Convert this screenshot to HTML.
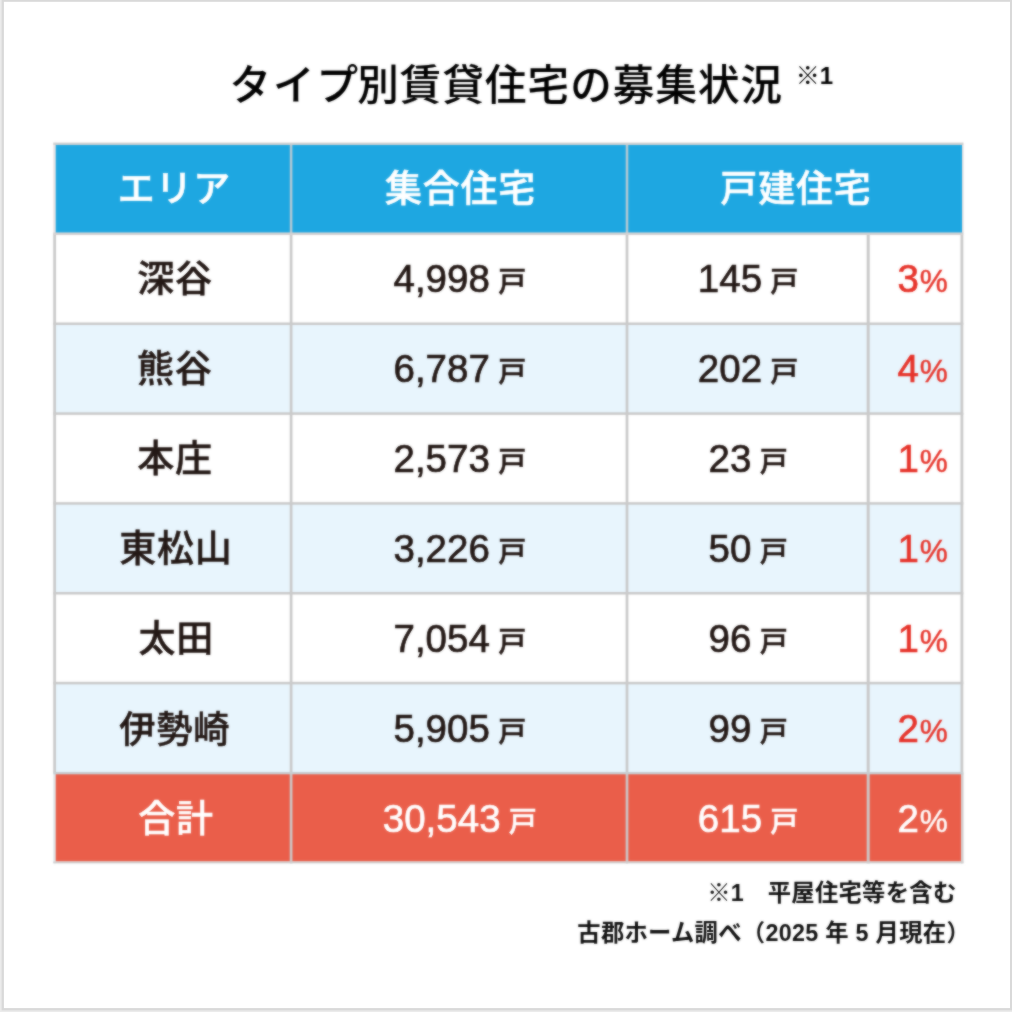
<!DOCTYPE html>
<html lang="ja">
<head>
<meta charset="utf-8">
<title>タイプ別賃貸住宅の募集状況</title>
<style>
html,body{margin:0;padding:0;}
body{width:1012px;height:1012px;overflow:hidden;background:#fff;
  font-family:"Liberation Sans","Noto Sans CJK JP",sans-serif;font-weight:500;color:#231815;}
#frame{position:absolute;left:0;top:0;}
#wrap{position:absolute;left:0;top:0;width:1012px;height:1012px;filter:url(#soft);}
h1{position:absolute;margin:0;left:229.4px;top:56.2px;height:60px;line-height:60px;
  font-size:41.5px;font-weight:500;letter-spacing:1.1px;color:#000;white-space:nowrap;-webkit-text-stroke:0.15px #000;}
h1 .k{letter-spacing:2px;margin-right:-2.7px;}
h1 sup{-webkit-text-stroke:0;position:absolute;left:566.3px;top:-10.7px;font-size:24px;font-weight:700;letter-spacing:0;line-height:60px;vertical-align:baseline;}
#tbl{position:absolute;left:0;top:0;}
#lines{position:absolute;left:0;top:0;pointer-events:none;}
.cell{position:absolute;white-space:nowrap;text-align:center;font-size:37px;line-height:90px;height:90px;}
.cell>span{position:relative;display:inline-block;line-height:1;vertical-align:baseline;}
.hd{color:#fff;}
.hd>span{letter-spacing:0.8px;top:1.1px;left:1.5px;-webkit-text-stroke:0.6px currentColor;}
.c1>span{letter-spacing:0.8px;top:0.4px;left:0;-webkit-text-stroke:0.5px currentColor;}
.c1.w3>span{transform:scaleX(0.98);top:0.8px;}
.tot{color:#fff;}
.pct{color:#e6332a;}
.tot.pct{color:#fff;}
.n{font-size:38.5px;-webkit-text-stroke:0.7px currentColor;top:0.5px;}
.u{font-size:28px;margin-left:8.3px;top:0.5px;-webkit-text-stroke:0.5px currentColor;}
.c2>span{left:0.8px;}
.c3>span{left:0.5px;}
.p{font-size:31.5px;margin-left:1px;top:0.5px;-webkit-text-stroke:0.45px currentColor;}
.c4{text-align:right;}
.c4>.p{margin-right:14px;}
.note{position:absolute;font-size:23.3px;letter-spacing:0.3px;font-weight:700;color:#111;white-space:nowrap;line-height:30px;}
.n1{top:878px;right:55.5px;}
.n2{top:918px;right:42px;}
</style>
</head>
<body>
<svg id="frame" width="1012" height="1012" viewBox="0 0 1012 1012"><rect x="0" y="0" width="1012" height="1012" fill="#ebebeb"/><rect x="1.6" y="0" width="1010.4" height="1010.4" fill="#d9d9d9"/><rect x="3.9" y="1.8" width="1006.1" height="1006.3" fill="#ffffff"/></svg>
<svg width="0" height="0" style="position:absolute"><defs><filter id="soft" x="0" y="0" width="100%" height="100%" color-interpolation-filters="sRGB"><feGaussianBlur in="SourceGraphic" stdDeviation="0.9" result="b"/><feComposite in="SourceGraphic" in2="b" operator="arithmetic" k1="0" k2="0.4" k3="0.6" k4="0"/></filter></defs></svg>
<div id="wrap">
<h1><span class="t"><span class="k">タイプ</span>別賃貸住宅の募集状況</span><sup>※1</sup></h1>
<svg id="lines" width="1012" height="1012" viewBox="0 0 1012 1012">
<rect x="54.6" y="144.1" width="907.5" height="89.83" fill="#1ea7e1"/>
<rect x="54.6" y="233.93" width="907.3" height="89.83" fill="#ffffff"/>
<rect x="54.6" y="323.76" width="907.3" height="89.83" fill="#e8f5fd"/>
<rect x="54.6" y="413.59" width="907.3" height="89.83" fill="#ffffff"/>
<rect x="54.6" y="503.42" width="907.3" height="89.83" fill="#e8f5fd"/>
<rect x="54.6" y="593.25" width="907.3" height="89.83" fill="#ffffff"/>
<rect x="54.6" y="683.08" width="907.3" height="89.83" fill="#e8f5fd"/>
<rect x="54.6" y="772.91" width="907.3" height="88.63" fill="#ea5e4a"/>
<rect x="53.3" y="142.8" width="2.4" height="91.13" fill="#ebe5e5"/>
<rect x="289.85" y="144.1" width="2.5" height="89.83" fill="#b6c9d3"/>
<rect x="625.75" y="144.1" width="2.5" height="89.83" fill="#b6c9d3"/>
<rect x="962.05" y="142.8" width="1.5" height="91.13" fill="#e4dfdf"/>
<rect x="53.25" y="233.93" width="2.7" height="538.98" fill="#c9c9c9"/>
<rect x="289.75" y="233.93" width="2.7" height="538.98" fill="#c9c9c9"/>
<rect x="625.65" y="233.93" width="2.7" height="538.98" fill="#c9c9c9"/>
<rect x="866.7" y="233.93" width="3" height="538.98" fill="#c9c9c9"/>
<rect x="960.5" y="233.93" width="2.8" height="538.98" fill="#c9c9c9"/>
<rect x="53.3" y="772.91" width="2.4" height="90.48" fill="#dfe7eb"/>
<rect x="289.75" y="772.91" width="2.7" height="90.48" fill="#ccc5c5"/>
<rect x="625.65" y="772.91" width="2.7" height="90.48" fill="#ccc5c5"/>
<rect x="866.7" y="772.91" width="3" height="90.48" fill="#ccc5c5"/>
<rect x="961" y="772.91" width="2.6" height="90.48" fill="#d3d0d0"/>
<rect x="53.3" y="142.55" width="910" height="2.4" fill="#d0d0d0"/>
<rect x="53.3" y="232.43" width="910" height="2.6" fill="#d5d1d1"/>
<rect x="53.3" y="322.51" width="910" height="2.5" fill="#c9c9c9"/>
<rect x="53.3" y="412.34" width="910" height="2.5" fill="#c9c9c9"/>
<rect x="53.3" y="502.17" width="910" height="2.5" fill="#c9c9c9"/>
<rect x="53.3" y="592" width="910" height="2.5" fill="#c9c9c9"/>
<rect x="53.3" y="681.83" width="910" height="2.5" fill="#c9c9c9"/>
<rect x="53.3" y="771.91" width="910" height="2.4" fill="#c6ced2"/>
<rect x="53.3" y="861.49" width="910" height="1.9" fill="#cfcfcf"/>
</svg>
<div id="tbl">
<div class="cell hd" style="left:54.6px;top:144.1px;width:236.5px;"><span>エリア</span></div>
<div class="cell hd" style="left:291.1px;top:144.1px;width:335.9px;"><span>集合住宅</span></div>
<div class="cell hd" style="left:627px;top:144.1px;width:334.9px;"><span>戸建住宅</span></div>
<div class="cell bd c1" style="left:56.8px;top:234.48px;width:236.5px;"><span>深谷</span></div>
<div class="cell bd c2" style="left:291.1px;top:234.48px;width:335.9px;"><span class="n">4,998</span><span class="u">戸</span></div>
<div class="cell bd c3" style="left:627px;top:234.48px;width:241.2px;"><span class="n">145</span><span class="u">戸</span></div>
<div class="cell bd c4 pct" style="left:868.2px;top:234.48px;width:93.7px;"><span class="n">3</span><span class="p">%</span></div>
<div class="cell bd c1" style="left:56.6px;top:324.53px;width:236.5px;"><span>熊谷</span></div>
<div class="cell bd c2" style="left:291.1px;top:324.53px;width:335.9px;"><span class="n">6,787</span><span class="u">戸</span></div>
<div class="cell bd c3" style="left:627px;top:324.53px;width:241.2px;"><span class="n">202</span><span class="u">戸</span></div>
<div class="cell bd c4 pct" style="left:868.2px;top:324.53px;width:93.7px;"><span class="n">4</span><span class="p">%</span></div>
<div class="cell bd c1" style="left:56.8px;top:414.58px;width:236.5px;"><span>本庄</span></div>
<div class="cell bd c2" style="left:291.1px;top:414.58px;width:335.9px;"><span class="n">2,573</span><span class="u">戸</span></div>
<div class="cell bd c3" style="left:627px;top:414.58px;width:241.2px;"><span class="n">23</span><span class="u">戸</span></div>
<div class="cell bd c4 pct" style="left:868.2px;top:414.58px;width:93.7px;"><span class="n">1</span><span class="p">%</span></div>
<div class="cell bd c1" style="left:57.6px;top:504.63px;width:236.5px;"><span>東松山</span></div>
<div class="cell bd c2" style="left:291.1px;top:504.63px;width:335.9px;"><span class="n">3,226</span><span class="u">戸</span></div>
<div class="cell bd c3" style="left:627px;top:504.63px;width:241.2px;"><span class="n">50</span><span class="u">戸</span></div>
<div class="cell bd c4 pct" style="left:868.2px;top:504.63px;width:93.7px;"><span class="n">1</span><span class="p">%</span></div>
<div class="cell bd c1" style="left:58px;top:594.68px;width:236.5px;"><span>太田</span></div>
<div class="cell bd c2" style="left:291.1px;top:594.68px;width:335.9px;"><span class="n">7,054</span><span class="u">戸</span></div>
<div class="cell bd c3" style="left:627px;top:594.68px;width:241.2px;"><span class="n">96</span><span class="u">戸</span></div>
<div class="cell bd c4 pct" style="left:868.2px;top:594.68px;width:93.7px;"><span class="n">1</span><span class="p">%</span></div>
<div class="cell bd c1 w3" style="left:56.2px;top:684.73px;width:236.5px;"><span>伊勢崎</span></div>
<div class="cell bd c2" style="left:291.1px;top:684.73px;width:335.9px;"><span class="n">5,905</span><span class="u">戸</span></div>
<div class="cell bd c3" style="left:627px;top:684.73px;width:241.2px;"><span class="n">99</span><span class="u">戸</span></div>
<div class="cell bd c4 pct" style="left:868.2px;top:684.73px;width:93.7px;"><span class="n">2</span><span class="p">%</span></div>
<div class="cell tot c1" style="left:57.8px;top:774.78px;width:236.5px;"><span>合計</span></div>
<div class="cell tot c2" style="left:291.1px;top:774.78px;width:335.9px;"><span class="n">30,543</span><span class="u">戸</span></div>
<div class="cell tot c3" style="left:627px;top:774.78px;width:241.2px;"><span class="n">615</span><span class="u">戸</span></div>
<div class="cell tot c4 pct" style="left:868.2px;top:774.78px;width:93.7px;"><span class="n">2</span><span class="p">%</span></div>
</div>
<div class="note n1">※1　平屋住宅等を含む</div>
<div class="note n2">古郡ホーム調べ（2025 年 5 月現在）</div>
</div>
</body>
</html>
